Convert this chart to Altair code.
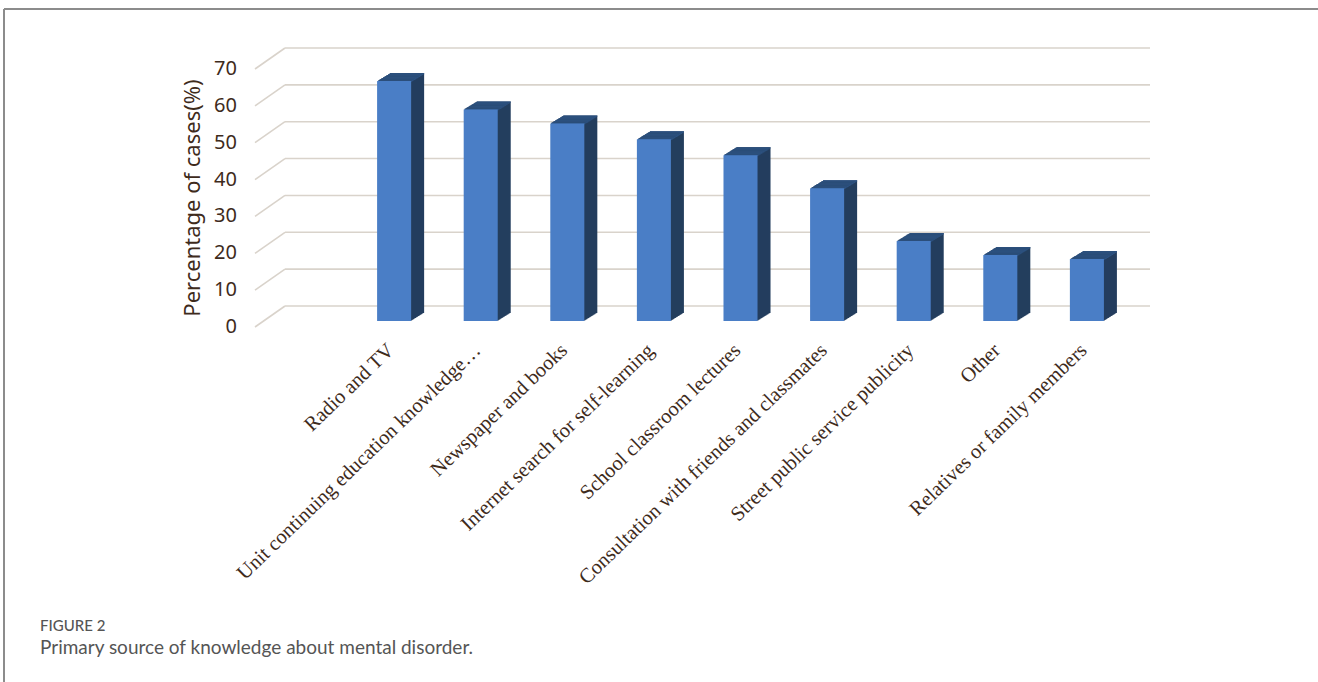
import altair as alt
import pandas as pd

categories = [
    "Radio and TV",
    "Unit continuing education knowledge…",
    "Newspaper and books",
    "Internet search for self-learning",
    "School classroom lectures",
    "Consultation with friends and classmates",
    "Street public service publicity",
    "Other",
    "Relatives or family members",
]
values = [65.1, 57.4, 53.6, 49.3, 45.0, 36.0, 21.7, 17.9, 16.8]
grid_ticks = [0, 10, 20, 30, 40, 50, 60, 70]
y_title = "Percentage of cases(%)"

FRONT = "#4a7ec6"
SIDE = "#243e5e"
TOP = "#2e5485"
GRID = "#d9d3cb"
TEXT = "#3e2b1c"

W, H = 895, 258
DEPTH_X, DEPTH_Y = 13, 8.0
WALL = 15

df = pd.DataFrame({"cat": categories, "val": values})
gdf = pd.DataFrame({"v": grid_ticks})

xscale = alt.Scale(domain=categories, paddingInner=0.607, paddingOuter=0.971, align=0.726)
yscale = alt.Scale(domain=[0, 70], nice=False)

x_enc = alt.X(
    "cat:N",
    scale=xscale,
    sort=categories,
    axis=alt.Axis(
        title=None, labelAngle=-44, labelAlign="right", labelBaseline="middle",
        labelFont="Liberation Serif", labelFontSize=20.5, labelColor=TEXT,
        labelPadding=26, labelOffset=-3, ticks=False, tickSize=0, domain=False,
        labelLimit=1000, labelOverlap=False,
    ),
)

# gridlines: slanted floor part and back wall part
slant = alt.Chart(gdf).mark_rule(color=GRID, strokeWidth=1.6, yOffset=6, y2Offset=-WALL).encode(
    x=alt.value(0), x2=alt.value(30),
    y=alt.Y("v:Q", scale=yscale, axis=None), y2="v:Q",
)
back = alt.Chart(gdf).mark_rule(color=GRID, strokeWidth=1.6, yOffset=-WALL, y2Offset=-WALL).encode(
    x=alt.value(30), x2=alt.value(W),
    y=alt.Y("v:Q", scale=yscale, axis=None), y2="v:Q",
)
ylabels = alt.Chart(gdf).mark_text(
    align="right", baseline="middle", font="Noto Sans", fontSize=20, color=TEXT, dy=6
).encode(
    x=alt.value(-18), y=alt.Y("v:Q", scale=yscale, axis=None), text="v:Q",
)
ytitle = alt.Chart(pd.DataFrame({"t": [y_title]})).mark_text(
    align="center", baseline="middle", font="Noto Sans", fontSize=22, color=TEXT, angle=270
).encode(x=alt.value(-62), y=alt.value(135), text="t:N")

layers = [slant, back, ylabels, ytitle]
for i in range(DEPTH_X, 0, -1):
    oy = -i * DEPTH_Y / DEPTH_X
    side = alt.Chart(df).mark_bar(color=SIDE, xOffset=i, x2Offset=i, yOffset=oy, y2Offset=oy).encode(
        x=x_enc, y=alt.Y("val:Q", scale=yscale, axis=None), y2=alt.datum(0),
    )
    top = alt.Chart(df).mark_bar(color=TOP, xOffset=i, x2Offset=i, yOffset=oy, y2Offset=oy + 1.4).encode(
        x=x_enc, y=alt.Y("val:Q", scale=yscale, axis=None), y2="val:Q",
    )
    layers += [side, top]

front = alt.Chart(df).mark_bar(color=FRONT).encode(
    x=x_enc, y=alt.Y("val:Q", scale=yscale, axis=None), y2=alt.datum(0),
)
layers.append(front)

# frame lines and caption
frame_top = alt.Chart(df).mark_rule(color="#8c8c8c", strokeWidth=2).encode(
    x=alt.value(-251), x2=alt.value(1318 - 255), y=alt.value(9 - 63)
)
frame_left = alt.Chart(df).mark_rule(color="#8c8c8c", strokeWidth=2).encode(
    x=alt.value(-251), y=alt.value(9 - 63), y2=alt.value(682 - 63)
)
cap1 = alt.Chart(pd.DataFrame({"t": ["FIGURE 2"]})).mark_text(
    align="left", baseline="middle", font="Lato", fontSize=15, fontWeight=500, color="#555555"
).encode(x=alt.value(40 - 255), y=alt.value(626 - 63), text="t:N")
cap2 = alt.Chart(pd.DataFrame({"t": ["Primary source of knowledge about mental disorder."]})).mark_text(
    align="left", baseline="middle", font="Lato", fontSize=19, color="#555555"
).encode(x=alt.value(40 - 255), y=alt.value(648 - 63), text="t:N")
layers += [frame_top, frame_left, cap1, cap2]

chart = alt.layer(*layers).properties(
    width=W, height=H,
    autosize=alt.AutoSizeParams(type="none"),
    padding={"left": 255, "top": 63, "right": 1318 - 255 - W, "bottom": 682 - 63 - H},
    background="white",
).configure_view(stroke=None)

chart.save("out.html", embed_options={"renderer": "svg", "actions": False})
